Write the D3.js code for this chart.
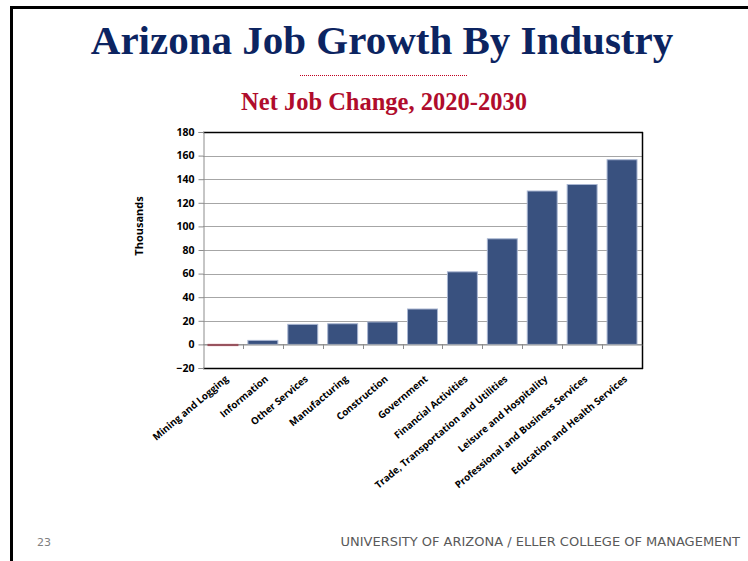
<!DOCTYPE html>
<html><head><meta charset="utf-8">
<script src="https://cdn.jsdelivr.net/npm/d3@7"></script>
<style>body{margin:0;background:#fff;}svg{display:block;}</style>
</head><body>
<svg id="c" width="748" height="561"></svg>
<script>
const categories = ["Mining and Logging","Information","Other Services","Manufacturing","Construction","Government","Financial Activities","Trade, Transportation and Utilities","Leisure and Hospitality","Professional and Business Services","Education and Health Services"];
const values = [-1, 3.4, 17, 17.5, 19, 30, 61.5, 89.5, 130, 135.5, 156.5];
const yTicks = [-20, 0, 20, 40, 60, 80, 100, 120, 140, 160, 180];

const svg = d3.select("#c");
// slide frame
svg.append("line").attr("x1",10).attr("x2",748).attr("y1",7.5).attr("y2",7.5).attr("stroke","#000").attr("stroke-width",3);
svg.append("line").attr("x1",11.5).attr("x2",11.5).attr("y1",6).attr("y2",561).attr("stroke","#000").attr("stroke-width",3);

svg.append("text").attr("x",382).attr("y",54).attr("text-anchor","middle")
  .attr("font-family","Liberation Serif, Times New Roman, serif").attr("font-weight","bold").attr("font-size",41)
  .attr("fill","#0c2461").text("Arizona Job Growth By Industry");
svg.append("line").attr("x1",300).attr("x2",467).attr("y1",75.5).attr("y2",75.5)
  .attr("stroke","#c00020").attr("stroke-width",1).attr("stroke-dasharray","1,1");
svg.append("text").attr("x",384).attr("y",110).attr("text-anchor","middle")
  .attr("font-family","Liberation Serif, Times New Roman, serif").attr("font-weight","bold").attr("font-size",24.5)
  .attr("fill","#b00c2c").text("Net Job Change, 2020-2030");

const L=203, R=642, T=132, B=368;
const x = d3.scaleBand().domain(categories).range([L,R]).paddingInner(0.25).paddingOuter(0.125);
const y = d3.scaleLinear().domain([-20,180]).range([B,T]);

// gridlines
svg.append("g").selectAll("line").data(yTicks.filter(v=>v>-20&&v<180)).join("line")
  .attr("x1",L).attr("x2",R).attr("y1",d=>Math.round(y(d))+0.5).attr("y2",d=>Math.round(y(d))+0.5)
  .attr("stroke","#a6a6a6").attr("stroke-width",1);

// bars
svg.append("g").selectAll("rect").data(values).join("rect")
  .attr("x",(d,i)=>x(categories[i]))
  .attr("width",x.bandwidth())
  .attr("y",d=>d>=0?y(d):y(0))
  .attr("height",d=>Math.abs(y(d)-y(0)))
  .attr("fill",d=>d<0?"#a3162c":"#39517f")
  .attr("stroke",d=>d<0?"#a3162c":"#a9b6d2").attr("stroke-width",1);

// plot border
svg.append("line").attr("x1",L).attr("x2",R+1).attr("y1",T+0.5).attr("y2",T+0.5).attr("stroke","#000").attr("stroke-width",1.5);
svg.append("line").attr("x1",R+0.5).attr("x2",R+0.5).attr("y1",T).attr("y2",B+1).attr("stroke","#000").attr("stroke-width",1.5);
svg.append("line").attr("x1",L).attr("x2",R+1).attr("y1",B+0.5).attr("y2",B+0.5).attr("stroke","#000").attr("stroke-width",1.5);

// y axis
const yAxis = d3.axisLeft(y).tickValues(yTicks).tickSize(5).tickPadding(4);
const gy = svg.append("g").attr("transform",`translate(${L+0.5},0)`).call(yAxis);
gy.select(".domain").attr("stroke","#8c8c8c");
gy.selectAll(".tick line").attr("stroke","#8c8c8c");
gy.selectAll("text").attr("font-family","Open Sans, Liberation Sans, sans-serif").attr("font-weight","bold").attr("font-size",10.5).attr("fill","#000");

// x axis at zero
const xAxis = d3.axisBottom(x).tickSize(0).tickFormat("");
const gx = svg.append("g").attr("transform",`translate(0,${Math.round(y(0))+0.5})`).call(xAxis);
gx.select(".domain").attr("stroke","#8c8c8c");
svg.append("g").selectAll("line").data(categories.slice(1)).join("line")
  .attr("x1",d=>Math.round(x(d)-x.step()*x.paddingInner()/2)+0.5)
  .attr("x2",d=>Math.round(x(d)-x.step()*x.paddingInner()/2)+0.5)
  .attr("y1",Math.round(y(0))).attr("y2",Math.round(y(0))+5).attr("stroke","#8c8c8c");

// x labels
svg.append("g").selectAll("text").data(categories).join("text")
  .attr("transform",d=>`translate(${x(d)+x.bandwidth()/2+6},${B+12}) rotate(-40)`)
  .attr("text-anchor","end").attr("font-family","Open Sans, Liberation Sans, sans-serif")
  .attr("font-weight","bold").attr("font-size",9.8).attr("fill","#000").text(d=>d);

svg.append("text").attr("transform",`translate(143,226) rotate(-90)`).attr("text-anchor","middle")
  .attr("font-family","Open Sans, Liberation Sans, sans-serif").attr("font-weight","bold").attr("font-size",11).text("Thousands");

// footer
svg.append("text").attr("x",37).attr("y",546).attr("font-family","DejaVu Sans, sans-serif").attr("font-size",11).attr("fill","#808080").text("23");
svg.append("text").attr("x",740).attr("y",546).attr("text-anchor","end").attr("font-family","DejaVu Sans, sans-serif")
  .attr("font-size",13).attr("fill","#595959").text("UNIVERSITY OF ARIZONA / ELLER COLLEGE OF MANAGEMENT");
</script>
</body></html>
